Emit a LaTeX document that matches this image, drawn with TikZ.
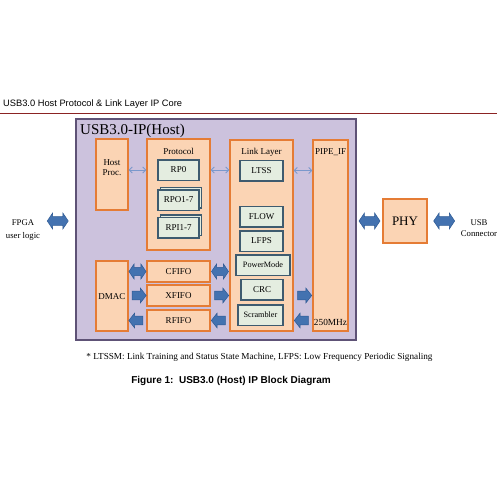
\documentclass[tikz,border=0pt]{standalone}
\usepackage{fontspec}
\setmainfont{Liberation Serif}
\newfontfamily\gothic{Liberation Sans}
\usetikzlibrary{arrows.meta, shapes.arrows, calc}

\definecolor{lavender}{HTML}{CCC2DD}
\definecolor{lavedge}{HTML}{5E5276}
\definecolor{peach}{HTML}{FBD4B4}
\definecolor{peachedge}{HTML}{E57C35}
\definecolor{mint}{HTML}{E4EDE0}
\definecolor{slate}{HTML}{3E5B6F}
\definecolor{fatblue}{HTML}{4372B0}
\definecolor{fatedge}{HTML}{2E5A94}
\definecolor{thinblue}{HTML}{7A98CC}
\definecolor{rulered}{HTML}{8B2323}

\begin{document}
\begin{tikzpicture}[x=1pt, y=-1pt,
    ipbox/.style={draw=lavedge, fill=lavender, line width=1.5pt},
    obox/.style={draw=peachedge, fill=peach, line width=1.4pt, inner sep=0pt},
    gbox/.style={draw=slate, fill=mint, line width=1.5pt, inner sep=0pt, minimum height=20.5pt, font=\fontsize{9}{10}\selectfont},
    lbl/.style={font=\fontsize{9}{9}\selectfont, align=center, inner sep=0pt},
    thinarr/.style={<->, >={Straight Barb[length=3pt, width=6pt]}, draw=thinblue, line width=0.8pt},
    fatdbl/.style={double arrow, fill=fatblue, draw=fatedge, line width=0.5pt, inner xsep=0pt, inner ysep=3.6pt, double arrow head extend=3pt, double arrow tip angle=112, minimum width=15pt, minimum height=#1},
    fatone/.style={single arrow, fill=fatblue, draw=fatedge, line width=0.5pt, inner xsep=0pt, inner ysep=3.8pt, single arrow head extend=3pt, single arrow tip angle=104, minimum width=15pt, minimum height=#1}]

    \fill[white] (0,0) rectangle (500,500);
    \useasboundingbox (0,0) rectangle (500,500);

    % header
    \node[anchor=west, inner sep=0pt, font=\gothic\fontsize{9.3}{10}\selectfont] (head) at (3,104) {USB3.0 Host Protocol \& Link Layer IP Core};
    \draw[rulered, line width=0.8pt] (0,113) -- (497,113);

    % IP core
    \node[ipbox, minimum width=280pt, minimum height=221pt, inner sep=0pt] (ipbox) at (216,229.5) {};
    \node[anchor=west, inner sep=0pt, font=\fontsize{15}{15}\selectfont] (iptitle) at (80,131) {USB3.0-IP(Host)};

    \node[obox, minimum width=32pt, minimum height=71pt] (hostproc) at (112,174.5) {};
    \node[lbl, font=\fontsize{9}{10}\selectfont] (hostproctxt) at (112,167.5) {Host\\Proc.};

    \node[obox, minimum width=63pt, minimum height=111pt] (protocol) at (178.5,194.5) {};
    \node[lbl] (protocoltxt) at (178.5,151) {Protocol};
    \node[gbox, minimum width=41pt] (rp0) at (178.5,170) {RP0};
    \node[gbox, minimum width=41pt] (rpoback) at (181,197.5) {};
    \node[gbox, minimum width=41pt] (rpo) at (178.5,200) {RPO1-7};
    \node[gbox, minimum width=41pt] (rpiback) at (181,225) {};
    \node[gbox, minimum width=41pt] (rpi) at (178.5,227.5) {RPI1-7};

    \node[obox, minimum width=63pt, minimum height=191pt] (linklayer) at (261.5,235.5) {};
    \node[lbl] (linklayertxt) at (261.5,152) {Link Layer};
    \node[gbox, minimum width=43pt] (ltss) at (261.5,170.5) {LTSS};
    \node[gbox, minimum width=43pt] (flow) at (261.5,216.5) {FLOW};
    \node[gbox, minimum width=43pt] (lfps) at (261.5,241) {LFPS};
    \node[gbox, minimum width=54pt, font=\fontsize{8.2}{9}\selectfont] (powermode) at (263,265) {PowerMode};
    \node[gbox, minimum width=42pt] (crc) at (262,289.5) {CRC};
    \node[gbox, minimum width=45pt, font=\fontsize{8.2}{9}\selectfont] (scrambler) at (260.5,315) {Scrambler};

    \node[obox, minimum width=35pt, minimum height=191pt] (pipe) at (330.5,235.5) {};
    \node[lbl, font=\fontsize{9}{10}\selectfont] (pipetxt) at (330.5,152) {PIPE\_IF};
    \node[lbl, font=\fontsize{9.3}{10}\selectfont] (clktxt) at (330.5,322) {250MHz};

    \node[obox, minimum width=32pt, minimum height=70pt] (dmac) at (112,296) {};
    \node[lbl] (dmactxt) at (112,297) {DMAC};
    \node[obox, minimum width=63pt, minimum height=21pt, font=\fontsize{9}{9}\selectfont] (cfifo) at (178.5,271.5) {CFIFO};
    \node[obox, minimum width=63pt, minimum height=21pt, font=\fontsize{9}{9}\selectfont] (xfifo) at (178.5,295.5) {XFIFO};
    \node[obox, minimum width=63pt, minimum height=21pt, font=\fontsize{9}{9}\selectfont] (rfifo) at (178.5,320.5) {RFIFO};

    % outside
    \node[obox, minimum width=44pt, minimum height=44pt, font=\fontsize{13}{13}\selectfont] (phy) at (405,221) {PHY};
    \node[lbl, font=\fontsize{8.7}{13}\selectfont] (fpga) at (23,230) {FPGA\\user logic};
    \node[lbl, font=\fontsize{8.7}{11}\selectfont] (usb) at (479,228) {USB\\Connector};

    % thin arrows
    \draw[thinarr] (hostproc.east |- rp0) -- (protocol.west |- rp0);
    \draw[thinarr] (protocol.east |- rp0) -- (linklayer.west |- rp0);
    \draw[thinarr] (linklayer.east |- ltss) -- (pipe.west |- ltss);

    % fat arrows
    \node[fatdbl=17pt] (dmaccf) at ($(dmac.east |- cfifo)!0.5!(cfifo.west)$) {};
    \node[fatone=14pt] (dmacxf) at ($(dmac.east |- xfifo)!0.5!(xfifo.west)$) {};
    \node[fatone=14pt, shape border rotate=180] (rfdmac) at ($(dmac.east |- rfifo)!0.5!(rfifo.west)$) {};
    \node[fatdbl=17pt] (cflink) at ($(cfifo.east)!0.5!(linklayer.west |- cfifo)$) {};
    \node[fatone=14pt] (xflink) at ($(xfifo.east)!0.5!(linklayer.west |- xfifo)$) {};
    \node[fatone=14pt, shape border rotate=180] (linkrf) at ($(rfifo.east)!0.5!(linklayer.west |- rfifo)$) {};
    \node[fatone=14pt] (linkpipe) at ($(linklayer.east |- xfifo)!0.5!(pipe.west |- xfifo)$) {};
    \node[fatone=14pt, shape border rotate=180] (pipelink) at ($(linklayer.east |- rfifo)!0.5!(pipe.west |- rfifo)$) {};
    \node[fatdbl=21pt, minimum width=16pt] (ipphy) at ($(ipbox.east |- phy)!0.5!(phy.west)$) {};
    \node[fatdbl=21pt, minimum width=16pt] (phyusb) at ($(phy.east)!0.5!(usb.west |- phy)$) {};
    \node[fatdbl=21pt, minimum width=16pt] (fpgaip) at ($(fpga.east |- phy)!0.5!(ipbox.west |- phy)$) {};

    % notes
    \node[inner sep=0pt, font=\fontsize{9.2}{10}\selectfont] (note) at (259.5,357) {* LTSSM: Link Training and Status State Machine, LFPS: Low Frequency Periodic Signaling};
    \node[inner sep=0pt, font=\gothic\bfseries\fontsize{10}{11}\selectfont] (caption) at (231,381) {Figure 1:\ \ USB3.0 (Host) IP Block Diagram};
\end{tikzpicture}
\end{document}
